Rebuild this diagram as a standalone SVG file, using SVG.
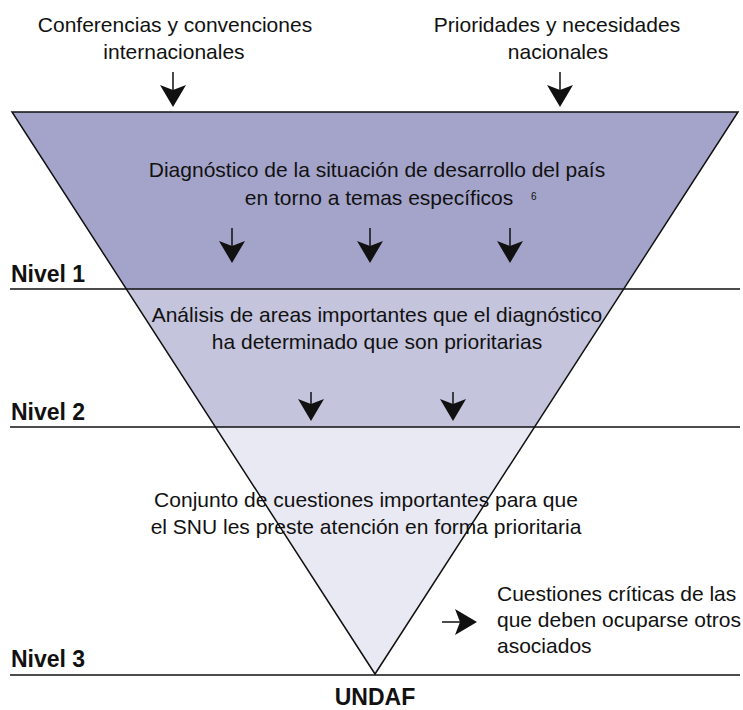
<svg xmlns="http://www.w3.org/2000/svg" width="743" height="710" viewBox="0 0 743 710">
<defs>
<style>
.t{font-family:"Liberation Sans",Arial,sans-serif;font-size:21px;fill:#111}
.b{font-family:"Liberation Sans",Arial,sans-serif;font-size:23px;font-weight:bold;fill:#111}
.c{text-anchor:middle}
.sh{stroke:#111;stroke-width:1.5;fill:none}
.ah{fill:#111;stroke:none}
.lv{stroke:#111;stroke-width:1.5}
.edge{fill:none;stroke:#111;stroke-width:1.5}
</style>
<path id="ahd" d="M0,0 L-13,-22 L0,-17 L13,-22 Z"/>
</defs>
<g id="band1"><polygon points="12,112 738,112 623,289 126,289" fill="#a4a4ca"/></g>
<g id="band2"><polygon points="126,289 623,289 534,427 215,427" fill="#c4c4dd"/></g>
<g id="band3"><polygon points="215,427 534,427 375,674" fill="#e9e9f4"/></g>
<g id="outline"><polygon class="edge" points="12,112 738,112 375,674"/></g>
<g id="levels">
<line class="lv" x1="10" y1="289" x2="740" y2="289"/>
<line class="lv" x1="10" y1="427" x2="740" y2="427"/>
<line class="lv" x1="10" y1="675" x2="740" y2="675"/>
<text class="b" x="11" y="282">Nivel 1</text>
<text class="b" x="11" y="420">Nivel 2</text>
<text class="b" x="11" y="667">Nivel 3</text>
</g>
<g id="source1"><text class="t c" x="175" y="32">Conferencias y convenciones</text><text class="t c" x="174" y="59">internacionales</text></g>
<g id="source2"><text class="t c" x="557" y="32">Prioridades y necesidades</text><text class="t c" x="558" y="59">nacionales</text></g>
<g id="diag"><text class="t c" x="377" y="177">Diagnóstico de la situación de desarrollo del país</text><text class="t c" x="379" y="205">en torno a temas específicos</text><text class="t" x="531" y="200" style="font-size:10px">6</text></g>
<g id="analisis"><text class="t c" x="377" y="322">Análisis de areas importantes que el diagnóstico</text><text class="t c" x="377" y="349">ha determinado que son prioritarias</text></g>
<g id="conjunto"><text class="t c" x="366" y="507">Conjunto de cuestiones importantes para que</text><text class="t c" x="366" y="534">el SNU les preste atención en forma prioritaria</text></g>
<g id="criticas"><text class="t" x="497" y="601">Cuestiones críticas de las</text><text class="t" x="497" y="627">que deben ocuparse otros</text><text class="t" x="497" y="653">asociados</text></g>
<g id="undaf"><text class="b c" x="375" y="705">UNDAF</text></g>
<g id="connectors">
<line class="sh" x1="173" y1="72" x2="173" y2="100"/><use href="#ahd" class="ah" x="173" y="107"/>
<line class="sh" x1="560" y1="72" x2="560" y2="100"/><use href="#ahd" class="ah" x="560" y="107"/>
<line class="sh" x1="232" y1="228" x2="232" y2="256"/><use href="#ahd" class="ah" x="232" y="263"/>
<line class="sh" x1="370" y1="228" x2="370" y2="256"/><use href="#ahd" class="ah" x="370" y="263"/>
<line class="sh" x1="510" y1="228" x2="510" y2="256"/><use href="#ahd" class="ah" x="510" y="263"/>
<line class="sh" x1="311" y1="392" x2="311" y2="414"/><use href="#ahd" class="ah" x="311" y="421"/>
<line class="sh" x1="453" y1="392" x2="453" y2="414"/><use href="#ahd" class="ah" x="453" y="421"/>
<line class="sh" x1="442" y1="622" x2="470" y2="622"/><path class="ah" d="M477,622 L455,609 L460,622 L455,635 Z"/>
</g>
</svg>
